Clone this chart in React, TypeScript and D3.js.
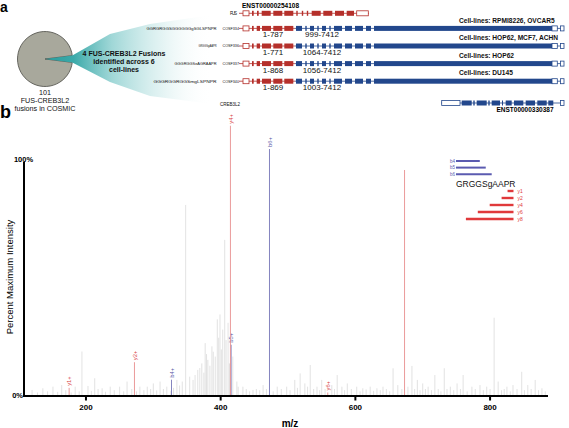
import React from 'react';
import * as d3 from 'd3';

const FONT = "'Liberation Sans', Arial, Helvetica, sans-serif";

// ---------- Panel a data ----------
const pieValues = [4, 97];
const pieCaption = ['101', 'FUS-CREB3L2', 'fusions in COSMIC'];
const fanCaption = ['4 FUS-CREB3L2 Fusions', 'identified  across 6', 'cell-lines'];
const fusionPeptides = ['GGRGRGGSGGGGGGgSGLSPNPR', 'GRGGSgAAPR', 'GGGRGGSeAGRAAPR', 'GGGRGGRGGSmgLSPNPR'];
const fusionIds = ['COSF334', 'COSF336', 'COSF337', 'COSF340'];
const fusRanges = ['1-787', '1-771', '1-868', '1-869'];
const crebRanges = ['999-7412', '1064-7412', '1056-7412', '1003-7412'];
const cellLines = [
  'Cell-lines: RPMI8226, OVCAR5',
  'Cell-lines: HOP62, MCF7, ACHN',
  'Cell-lines: HOP62',
  'Cell-lines: DU145',
];
const fusTranscript = 'ENST00000254108';
const crebTranscript = 'ENST00000330387';

// exon structures: [start, end, kind] in diagram units
const fusExons: [number, number, string][] = [
  [0, 6, 'open'], [8.7, 11, 'thin'], [13.7, 16, 'thin'], [18.7, 27.7, 'block'], [30.3, 39.3, 'block'],
  [41.3, 50.3, 'block'], [53, 55, 'thin'], [58.5, 60.5, 'thin'], [63.5, 65.5, 'thin'], [68.7, 77.7, 'block'],
  [80.3, 89.3, 'block'], [92, 101, 'block'], [103.7, 111, 'block'], [113.7, 125.3, 'open'],
];
const fusionRedExons: [number, number, string][] = [
  [0, 6, 'open'], [8.7, 11, 'thin'], [13.7, 17, 'block'], [19, 28, 'block'], [30.3, 39.3, 'block'], [41.3, 50.3, 'block'],
];
const fusionBlueExons: [number, number, string][] = [
  [53, 59, 'block'], [62, 64, 'thin'], [67, 71, 'block'], [74, 76, 'thin'], [79, 83, 'block'], [86, 88, 'thin'],
  [91, 99, 'block'], [102, 109, 'block'], [112, 120, 'block'], [123, 128, 'block'], [131, 309, 'block'],
  [309, 314.3, 'open'], [317.5, 321, 'open'],
];
const crebExons: [number, number, string][] = [
  [198.7, 217, 'open'], [218.7, 228.7, 'block'], [230, 232, 'thin'], [233.7, 243.7, 'block'], [245, 247, 'thin'],
  [248.7, 257, 'block'], [258.7, 260.3, 'thin'], [262.7, 268.7, 'block'], [271, 280.3, 'block'], [282.7, 292, 'block'],
  [294.3, 303.7, 'block'], [305.3, 310.3, 'block'], [317.5, 321, 'open'],
];

// ---------- Panel b data ----------
const xTicks = [200, 400, 600, 800];
const grayMz = [
  120, 128, 136, 143, 151, 158, 164, 170, 178, 184, 190, 194, 203, 208, 213, 218, 224, 229, 236, 242, 250, 256,
  261, 268, 275, 280, 286, 291, 296, 300, 305, 310, 315, 320, 326, 330, 335, 339, 343, 348, 354, 359, 362, 366,
  369, 372, 375, 377, 379, 381, 384, 387, 389, 392, 395, 397, 399, 401, 403, 406, 408, 411, 413, 418, 424, 426,
  433, 438, 443, 448, 453, 458, 463, 468, 478, 484, 490, 498, 503, 510, 514, 518, 525, 529, 533, 538, 543, 547,
  550, 555, 565, 569, 573, 580, 584, 588, 594, 602, 607, 611, 616, 622, 627, 632, 637, 641, 646, 651, 656, 663,
  669, 678, 684, 688, 692, 696, 700, 704, 708, 713, 718, 723, 727, 732, 736, 741, 746, 751, 756, 760, 766, 773,
  778, 785, 790, 795, 800, 806, 812, 817, 821, 825, 830, 834, 840, 847, 851, 856, 861, 867, 872, 877, 882,
];
const grayIntensity = [
  2.6, 1.5, 3.3, 2, 4, 1.8, 4.7, 2.5, 1.5, 4, 2, 19.1, 4.3, 2.2, 7.6, 3, 3.3, 1.8, 4, 2.5, 4, 2,
  6.2, 3, 2, 4, 2.5, 4, 3, 5.4, 2.4, 6.2, 3, 4, 2.2, 3.5, 6.9, 4.5, 6.2, 82, 8.3, 6.9, 9, 11.2,
  12, 14, 10, 22.7, 18, 15.5, 13, 21.3, 19, 16.9, 32.9, 25, 35, 20, 28.5, 67, 24, 31.4, 14, 16.9, 6.2, 4,
  4, 3, 2, 2.6, 3, 2.5, 4.7, 3, 2, 4, 3, 4, 2.5, 6.9, 3.5, 9.7, 5.4, 4, 13.3, 3, 4, 2.5,
  6.9, 3, 4.7, 3, 9, 4, 2.5, 5.4, 3, 4, 2, 3.3, 2.8, 4, 2.2, 3.3, 2.5, 4, 3, 2, 11.9, 4.7,
  3, 4, 12.9, 3, 6.9, 2.5, 5.4, 3, 4, 2.5, 9, 3, 2, 11.9, 3, 4, 2.5, 5.4, 3, 9, 2, 4,
  3, 4.7, 2.5, 4, 3, 33.6, 6.2, 2.5, 3, 4, 2, 4.7, 3, 10.4, 2.5, 4.7, 3, 6.9, 2.5, 3.3, 2,
];
const ionNames = ['y1+', 'y2+', 'b4+', 'b5+', 'y4+', 'b6+', 'y6+', 'y8+'];
const ionMz = [175, 272, 327, 415.5, 414.5, 472.5, 559, 673];
const ionIntensity = [3.5, 14.5, 7, 22, 116, 106, 1.5, 97];
const ionLabelled = [true, true, true, true, true, true, true, false];

const peptide = 'GRGGSgAAPR';
const bLegend = ['b4', 'b5', 'b6'];
const bResidues = [4, 5, 6];
const yLegend = ['y1', 'y2', 'y4', 'y6', 'y8'];
const yResidues = [1, 2, 4, 6, 8];

const RED = '#b5302b';
const BLUE = '#22478c';

function Exons({ exons, y, color, gx }: any) {
  return (
    <g>
      {exons.map((e: [number, number, string], i: number) => {
        const x0 = gx(e[0]);
        const x1 = gx(e[1]);
        if (e[2] === 'open') {
          return <rect key={i} x={x0} y={y - 2.5} width={x1 - x0} height={5} fill="#fff" stroke={color} strokeWidth={0.8} />;
        }
        if (e[2] === 'thin') {
          return <rect key={i} x={x0 + 0.3} y={y - 2.5} width={Math.max(1, x1 - x0 - 0.6)} height={5} fill={color} />;
        }
        return <rect key={i} x={x0} y={y - 2.5} width={x1 - x0} height={5} fill={color} />;
      })}
    </g>
  );
}

export default function App() {
  // ---- panel a ----
  const pieCx = 45, pieCy = 59, pieR = 27.5;
  const slice = (pieValues[0] / d3.sum(pieValues)) * Math.PI * 2;
  const a0 = Math.PI / 2 - slice / 2;
  const arcs = d3.pie<number>().sort(null).value((d) => d).startAngle(a0).endAngle(a0 + Math.PI * 2)(pieValues);
  const arcGen = d3.arc<any>().innerRadius(0).outerRadius(pieR);
  const rimTop = [pieCx + pieR * Math.sin(a0), pieCy - pieR * Math.cos(a0)];
  const rimBot = [pieCx + pieR * Math.sin(a0 + slice), pieCy - pieR * Math.cos(a0 + slice)];
  const fanPts = [
    [pieCx, pieCy], rimTop, [110, 34], [150, 24], [212, 15], [212, 104], [150, 96], [110, 82], rimBot,
  ];
  const fanPath = d3.line()(fanPts as [number, number][]) + 'Z';

  const gx = d3.scaleLinear().domain([0, 330]).range([243, 573]);
  const fusY = 13.3;
  const rowY = (i: number) => 28.4 + i * 17.6;
  const crebY = 103;

  // ---- panel b ----
  const x = d3.scaleLinear().domain([108, 886]).range([24, 548]);
  const y = d3.scaleLinear().domain([0, 100]).range([396, 163]);
  const rx = d3.scaleLinear().domain([0, 10]).range([456, 515.5]);

  return (
    <svg width={569} height={428} style={{ position: 'absolute', left: 0, top: 0, background: '#fff' }} fontFamily={FONT}>
      <defs>
        <linearGradient id="fan" gradientUnits="userSpaceOnUse" x1={pieCx} y1={0} x2={212} y2={0}>
          <stop offset="0" stopColor="#2a9c9c" stopOpacity={1} />
          <stop offset="0.17" stopColor="#3aa9a9" stopOpacity={1} />
          <stop offset="0.4" stopColor="#8fd0d0" stopOpacity={0.85} />
          <stop offset="0.7" stopColor="#cdeaea" stopOpacity={0.55} />
          <stop offset="1" stopColor="#ffffff" stopOpacity={0} />
        </linearGradient>
      </defs>

      {/* panel labels */}
      <text x={0} y={12} fontSize={14} fontWeight="bold">a</text>
      <text x={0} y={118} fontSize={18} fontWeight="bold">b</text>

      {/* pie */}
      <g transform={`translate(${pieCx},${pieCy})`}>
        {arcs.map((a, i) => (
          <path key={i} d={arcGen(a) as string} fill={i === 0 ? '#2a9c9c' : '#a8a89c'} stroke={i === 0 ? 'none' : '#4a4a44'} strokeWidth={0.8} />
        ))}
      </g>
      <path d={fanPath} fill="url(#fan)" />
      {pieCaption.map((t, i) => (
        <text key={i} x={pieCx} y={94.5 + i * 8.3} fontSize={7.2} textAnchor="middle" fill="#111">{t}</text>
      ))}
      {fanCaption.map((t, i) => (
        <text key={i} x={124} y={55.5 + i * 8.2} fontSize={7} fontWeight="bold" textAnchor="middle" fill="#111">{t}</text>
      ))}

      {/* FUS transcript */}
      <text x={270.5} y={7.6} fontSize={6.5} fontWeight="bold" textAnchor="middle">{fusTranscript}</text>
      <text x={230} y={fusY + 1.6} fontSize={4.5} fill="#111" textLength={7}>FUS</text>
      <line x1={gx(-4)} x2={gx(126)} y1={fusY} y2={fusY} stroke={RED} strokeWidth={0.8} />
      <Exons exons={fusExons} y={fusY} color={RED} gx={gx} />

      {/* fusion rows */}
      {fusionIds.map((id, i) => {
        const ry = rowY(i);
        const pepW = [70, 18, 42, 63][i];
        const pepFs = Math.min(4.2, pepW / (fusionPeptides[i].length * 0.66));
        return (
          <g key={id}>
            <text x={216.5 - pepW} y={ry + 1.4} fontSize={pepFs} textLength={pepW} lengthAdjust="spacingAndGlyphs" fill="#111">{fusionPeptides[i]}</text>
            <text x={222.5} y={ry + 1.4} fontSize={4} textLength={16.5} lengthAdjust="spacingAndGlyphs" fill="#111">{id}</text>
            <line x1={gx(-4)} x2={gx(52)} y1={ry} y2={ry} stroke={RED} strokeWidth={0.8} />
            <line x1={gx(52)} x2={gx(321)} y1={ry} y2={ry} stroke={BLUE} strokeWidth={0.8} />
            <Exons exons={fusionRedExons} y={ry} color={RED} gx={gx} />
            <Exons exons={fusionBlueExons} y={ry} color={BLUE} gx={gx} />
            <text x={gx(30)} y={ry + 9} fontSize={8} textAnchor="middle" fill="#111">{fusRanges[i]}</text>
            <text x={gx(79)} y={ry + 9} fontSize={8} textAnchor="middle" fill="#111">{crebRanges[i]}</text>
            <text x={459} y={ry - 5.8} fontSize={6.6} fontWeight="bold" fill="#111">{cellLines[i]}</text>
          </g>
        );
      })}

      {/* CREB3L2 */}
      <text x={220} y={crebY + 2.6} fontSize={4.6} textLength={20} lengthAdjust="spacingAndGlyphs" fill="#111">CREB3L2</text>
      <line x1={gx(198)} x2={gx(321)} y1={crebY} y2={crebY} stroke={BLUE} strokeWidth={0.8} />
      <Exons exons={crebExons} y={crebY} color={BLUE} gx={gx} />
      <text x={525} y={crebY + 8.6} fontSize={6.5} fontWeight="bold" textAnchor="middle">{crebTranscript}</text>

      {/* ---- spectrum ---- */}
      {grayMz.map((m, i) => (
        <line key={i} x1={x(m)} x2={x(m)} y1={y(0)} y2={y(grayIntensity[i])} stroke="#d6d6d6" strokeWidth={0.7} />
      ))}
      {ionNames.map((n, i) => {
        const isY = n[0] === 'y';
        const px = x(ionMz[i]);
        const py = y(ionIntensity[i]);
        return (
          <g key={n}>
            <line x1={px} x2={px} y1={y(0)} y2={py} stroke={isY ? '#e88e8e' : '#7777b8'} strokeWidth={0.9} />
            {ionLabelled[i] && (
              <text transform={`translate(${px + 0.3},${py - 2}) rotate(-90)`} fontSize={5.8} dominantBaseline="central" fill={isY ? '#d84040' : '#5656a6'}>{n}</text>
            )}
          </g>
        );
      })}

      {/* axes */}
      <line x1={24} x2={24} y1={162} y2={397} stroke="#000" strokeWidth={2} />
      <line x1={23} x2={548} y1={396} y2={396} stroke="#000" strokeWidth={2} />
      {xTicks.map((t) => (
        <g key={t}>
          <line x1={x(t)} x2={x(t)} y1={396} y2={400.5} stroke="#000" strokeWidth={2} />
          <text x={x(t)} y={409.5} fontSize={8} fontWeight="bold" textAnchor="middle">{t}</text>
        </g>
      ))}
      <text x={23.5} y={161.5} fontSize={7.5} fontWeight="bold" textAnchor="middle">100%</text>
      <text x={23} y={398} fontSize={7.5} fontWeight="bold" textAnchor="end">0%</text>
      <text transform="translate(13,277) rotate(-90)" fontSize={9.5} textAnchor="middle">Percent Maximum Intensity</text>
      <text x={290} y={426.5} fontSize={10} fontWeight="bold" textAnchor="middle">m/z</text>

      {/* fragment legend */}
      {bLegend.map((b, i) => (
        <g key={b}>
          <line x1={rx(0)} x2={rx(bResidues[i])} y1={161 + i * 6.6} y2={161 + i * 6.6} stroke="#5b5bb0" strokeWidth={2} />
          <text x={455} y={162.6 + i * 6.6} fontSize={4.5} textAnchor="end" fill="#5b5bb0">{b}</text>
        </g>
      ))}
      <text x={rx(0)} y={186.5} fontSize={8.5} textLength={rx(10) - rx(0)} lengthAdjust="spacingAndGlyphs" fill="#111">{peptide}</text>
      {yLegend.map((t, i) => (
        <g key={t}>
          <line x1={rx(10 - yResidues[i]) - 2} x2={rx(10) - 2} y1={191 + i * 7} y2={191 + i * 7} stroke="#e0393b" strokeWidth={2.4} />
          <text x={517.5} y={192.8 + i * 7} fontSize={5} fill="#e0393b">{t}</text>
        </g>
      ))}
    </svg>
  );
}
